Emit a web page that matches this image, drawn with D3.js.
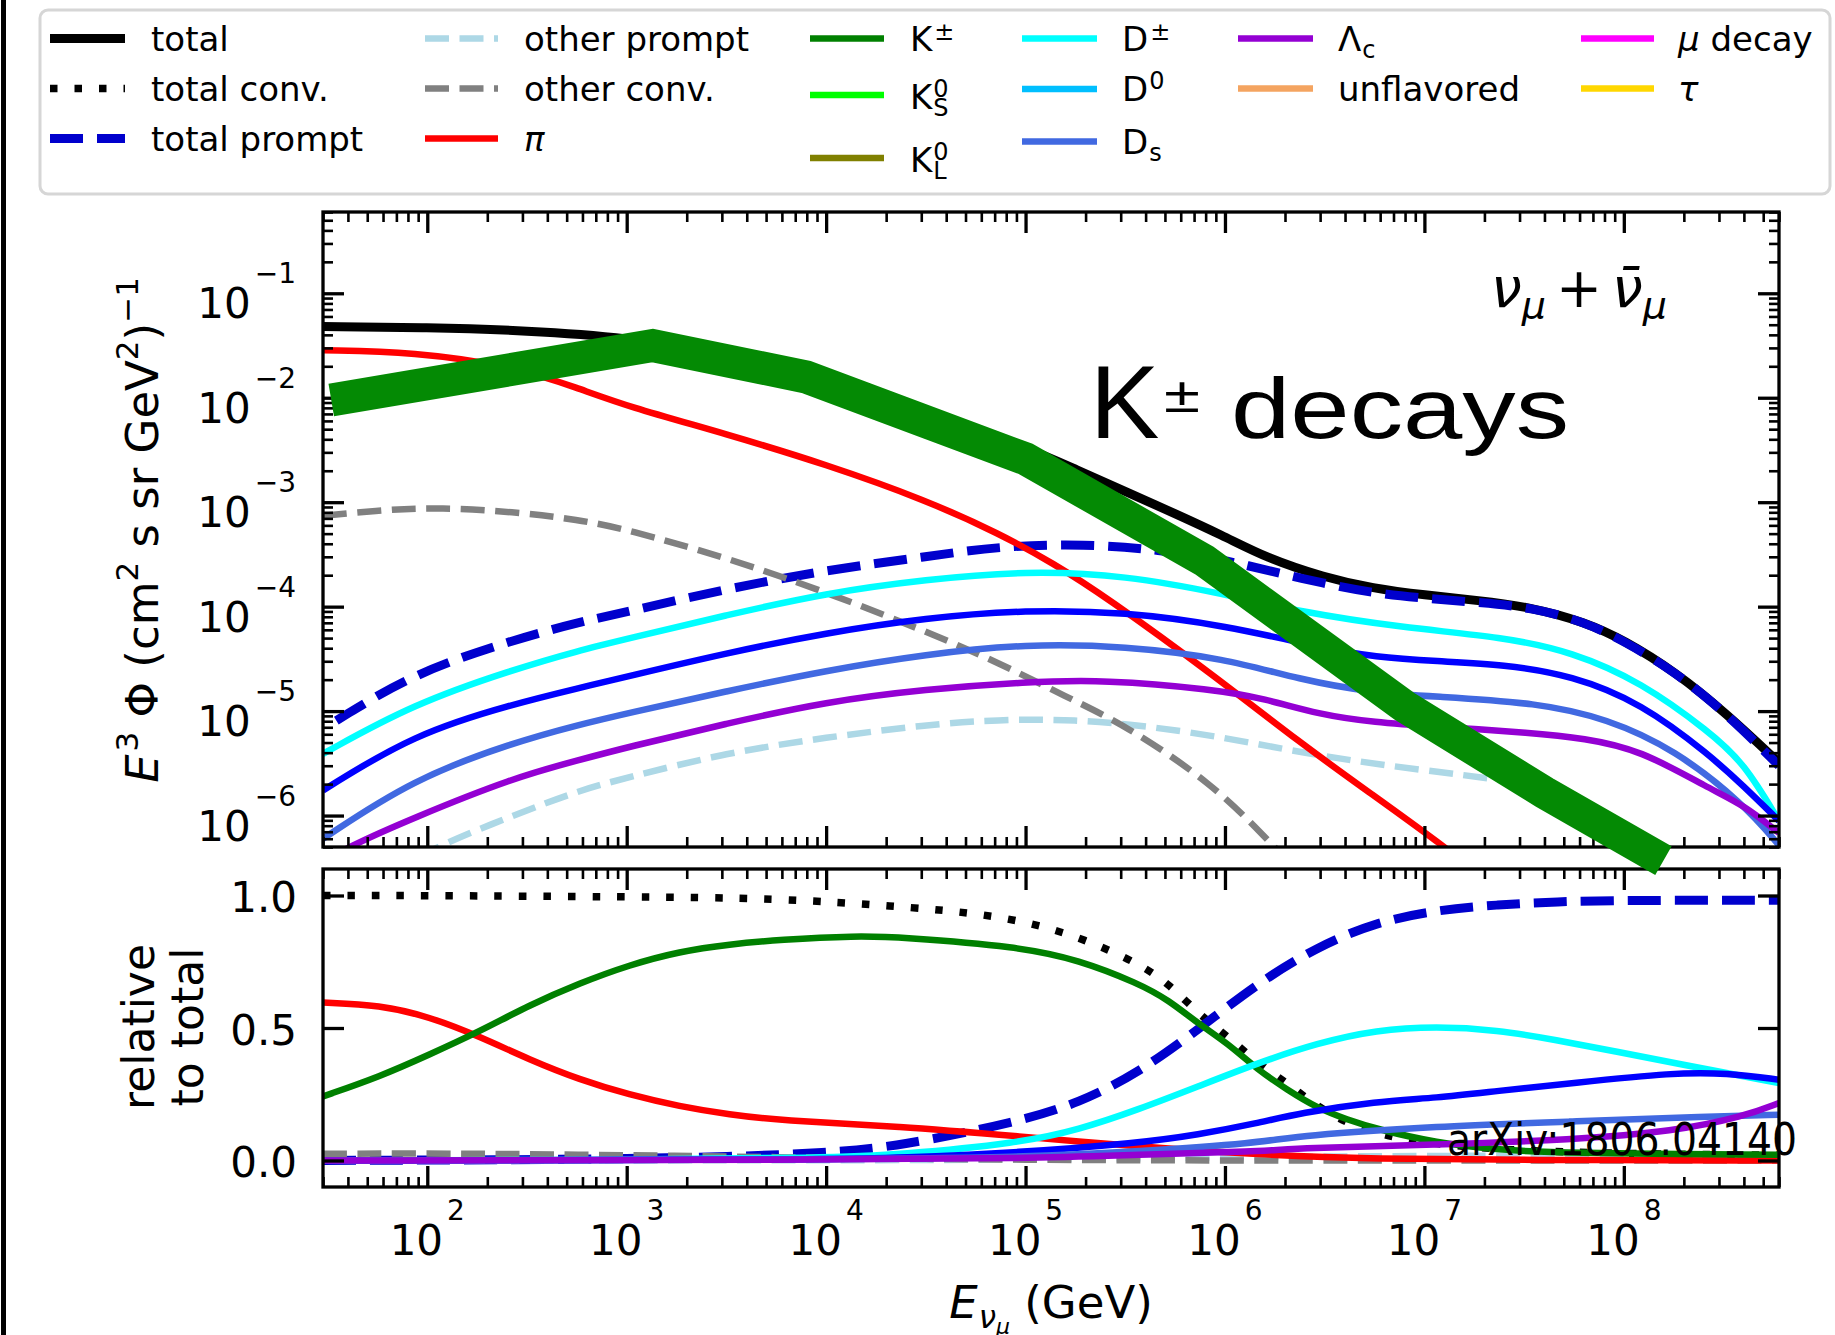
<!DOCTYPE html>
<html>
<head>
<meta charset="utf-8">
<script src="https://cdn.jsdelivr.net/npm/d3@7"></script>
<style>
  html, body { margin: 0; padding: 0; background: #fff; }
  svg { display: block; }
</style>
</head>
<body>
<svg id="fig" width="1835" height="1335"></svg>
<script>
// ---------------- data: E^3 * flux (cm^-2 s^-1 sr^-1 GeV^2), E in GeV ----------------
const fluxTotal = [[30,0.048],[100,0.047],[316,0.044],[1000,0.038],[3160,0.0263],[1e4,0.0158],[3.16e4,7.1e-3],[1e5,3.4e-3],[1.65e5,2.2e-3],[4.7e5,9.1e-4],[1e6,4.7e-4],[1.6e6,2.95e-4],[3.16e6,1.9e-4],[5.5e6,1.5e-4],[1e7,1.29e-4],[1.86e7,1.15e-4],[3.5e7,9.8e-5],[6.4e7,7.1e-5],[1e8,4.8e-5],[1.8e8,2.4e-5],[3.27e8,9.5e-6],[6e8,3.2e-6]];
const fluxPrompt = [[35,8.1e-6],[85,2.3e-5],[270,4.8e-5],[575,7.1e-5],[1000,8.9e-5],[3160,1.48e-4],[1e4,2.24e-4],[3.16e4,3.0e-4],[7.4e4,3.8e-4],[2e5,4.0e-4],[4.7e5,3.5e-4],[1e6,2.8e-4],[1.6e6,2.24e-4],[3.16e6,1.66e-4],[5.5e6,1.35e-4],[1e7,1.2e-4],[1.86e7,1.1e-4],[3.5e7,9.8e-5],[6.4e7,7.1e-5],[1e8,4.7e-5],[1.8e8,2.4e-5],[3.27e8,9.5e-6],[6e8,3.0e-6]];
const fluxOtherPrompt = [[63,2.8e-7],[120,5.4e-7],[270,1.0e-6],[575,1.74e-6],[1000,2.3e-6],[3160,4.0e-6],[1e4,5.6e-6],[3.16e4,7.4e-6],[7.4e4,8.3e-6],[1.58e5,8.3e-6],[3.16e5,7.6e-6],[8.7e5,5.9e-6],[2.95e6,3.7e-6],[1e7,2.7e-6],[2.5e7,2.2e-6],[5e7,1.7e-6]];
const fluxOtherConv = [[30,7.4e-4],[63,8.5e-4],[115,8.9e-4],[270,8.1e-4],[575,6.8e-4],[1000,5.5e-4],[3160,2.95e-4],[1e4,1.38e-4],[3.16e4,5.8e-5],[7.4e4,2.9e-5],[1.58e5,1.38e-5],[3.16e5,7.4e-6],[8.7e5,2.0e-6],[1.58e6,6.3e-7],[2.5e6,2.5e-7]];
const fluxPion = [[30,0.0285],[85,0.0275],[270,0.020],[575,0.0123],[1000,8.3e-3],[3160,4.5e-3],[1e4,2.3e-3],[3.16e4,1.05e-3],[7.4e4,5.0e-4],[1.38e5,2.6e-4],[2.5e5,1.26e-4],[8.7e5,2.24e-5],[2.37e6,5.0e-6],[5.5e6,1.58e-6],[1.2e7,5.4e-7],[2e7,2.5e-7]];
const fluxDpm = [[30,3.9e-6],[85,1.17e-5],[270,2.5e-5],[575,3.8e-5],[1000,4.9e-5],[3160,8.3e-5],[1e4,1.35e-4],[3.16e4,1.82e-4],[1e5,2.2e-4],[3.16e5,2.0e-4],[1e6,1.32e-4],[2.37e6,8.9e-5],[7.7e6,6.3e-5],[2.5e7,5.1e-5],[5.5e7,3.7e-5],[1.22e8,1.9e-5],[2.7e8,6.3e-6],[4e8,3.2e-6],[6e8,8.9e-7]];
const fluxD0 = [[30,1.74e-6],[85,6.0e-6],[270,1.17e-5],[575,1.66e-5],[1000,2.14e-5],[3160,3.6e-5],[1e4,5.6e-5],[3.16e4,7.8e-5],[1e5,9.3e-5],[3.16e5,8.9e-5],[1e6,6.6e-5],[3.16e6,4.0e-5],[5.6e6,3.3e-5],[1.15e7,3.0e-5],[2.5e7,2.8e-5],[5.5e7,2.2e-5],[1.22e8,1.2e-5],[2.7e8,3.8e-6],[4e8,1.9e-6],[6e8,8.9e-7]];
const fluxDs = [[30,6.0e-7],[85,2.24e-6],[270,5.0e-6],[575,7.4e-6],[1000,9.5e-6],[3160,1.55e-5],[1e4,2.45e-5],[3.16e4,3.5e-5],[1e5,4.4e-5],[3.16e5,4.2e-5],[1e6,3.2e-5],[2.37e6,2.0e-5],[5.5e6,1.5e-5],[1.15e7,1.38e-5],[3.7e7,1.2e-5],[8.2e7,8.5e-6],[1.8e8,4.3e-6],[4e8,1.29e-6],[6e8,5.2e-7]];
const fluxLambdaC = [[30,3.5e-7],[39,4.9e-7],[85,9.5e-7],[270,2.3e-6],[575,3.4e-6],[1000,4.5e-6],[3160,7.6e-6],[1e4,1.23e-5],[3.16e4,1.62e-5],[1e5,1.9e-5],[2.5e5,2.0e-5],[8.7e5,1.62e-5],[1.58e6,1.32e-5],[2.95e6,9.3e-6],[5.6e6,7.8e-6],[1.15e7,7.1e-6],[3.5e7,6.2e-6],[6.3e7,5.5e-6],[1.2e8,4.3e-6],[2.7e8,1.8e-6],[4e8,1.26e-6],[6e8,6.8e-7]];
// highlighted K± decay contribution (thick band)
const kaonBand = [[33,9.5e-3],[1350,0.0316],[7940,0.0158],[1e5,2.6e-3],[7.9e5,2.75e-4],[7.9e6,1.12e-5],[4e7,1.66e-6],[1.58e8,3.7e-7]];

// ---------------- data: fractions of the total ----------------
const ratioConv = [[30,1.0],[100,1.0],[1000,0.995],[5850,0.99],[2.34e4,0.958],[4.6e4,0.94],[9.3e4,0.908],[1.85e5,0.845],[3.67e5,0.745],[5.2e5,0.669],[7.3e5,0.556],[1.03e6,0.468],[1.46e6,0.368],[2.05e6,0.292],[2.9e6,0.204],[4.1e6,0.141],[5.75e6,0.104],[8.1e6,0.078],[1.07e7,0.066],[2.3e7,0.04],[1e8,0.025],[6e8,0.02]];
const ratioPrompt = [[30,0.0],[316,0.003],[1000,0.007],[3160,0.014],[1e4,0.028],[2.34e4,0.054],[9.3e4,0.147],[1.85e5,0.217],[3.67e5,0.33],[7.3e5,0.493],[1.46e6,0.669],[2.9e6,0.807],[5.75e6,0.90],[1.15e7,0.945],[2.3e7,0.965],[4.6e7,0.977],[1e8,0.982],[6e8,0.982]];
const ratioOtherPrompt = [[30,0.0],[1e4,0.0004],[1e5,0.003],[1e6,0.012],[1e7,0.018],[1e8,0.018],[6e8,0.015]];
const ratioOtherConv = [[30,0.025],[100,0.027],[316,0.024],[1000,0.02],[3160,0.015],[1e4,0.01],[3.16e4,0.006],[1e5,0.003],[3.16e5,0.001],[1e6,0.0],[6e8,0.0]];
const ratioPion = [[30,0.596],[58,0.587],[102,0.543],[183,0.468],[326,0.38],[580,0.305],[1030,0.248],[1840,0.204],[3280,0.173],[5850,0.151],[2.34e4,0.129],[9.3e4,0.091],[3.67e5,0.053],[1.46e6,0.022],[5.75e6,0.006],[3e7,0.002],[6e8,0.0]];
const ratioKaon = [[30,0.242],[58,0.317],[102,0.399],[183,0.487],[326,0.587],[580,0.669],[1030,0.738],[1840,0.789],[3280,0.816],[5850,0.833],[1.42e4,0.848],[2.34e4,0.843],[9.3e4,0.807],[1.85e5,0.757],[3.67e5,0.669],[5.2e5,0.606],[7.3e5,0.518],[1.03e6,0.443],[1.46e6,0.342],[2.05e6,0.267],[2.9e6,0.198],[4.1e6,0.154],[5.75e6,0.119],[1.15e7,0.066],[2.3e7,0.041],[4.6e7,0.028],[6e8,0.022]];
const ratioDpm = [[30,0.0],[1000,0.002],[1e4,0.01],[2.34e4,0.022],[9.3e4,0.066],[1.85e5,0.116],[3.67e5,0.192],[7.3e5,0.279],[1.46e6,0.368],[2.9e6,0.443],[5.75e6,0.493],[1.15e7,0.506],[2.3e7,0.493],[4.6e7,0.455],[9.1e7,0.411],[1.8e8,0.368],[6e8,0.292]];
const ratioD0 = [[30,0.0],[1000,0.001],[1e4,0.005],[2.34e4,0.01],[9.3e4,0.03],[3.67e5,0.066],[7.3e5,0.097],[1.46e6,0.141],[2.37e6,0.179],[5.75e6,0.223],[1.15e7,0.236],[2.3e7,0.262],[5.5e7,0.292],[1.8e8,0.332],[3.27e8,0.33],[6e8,0.305]];
const ratioDs = [[30,0.0],[1e4,0.003],[1e5,0.012],[3.67e5,0.034],[1.46e6,0.066],[2.37e6,0.094],[1.15e7,0.129],[5.5e7,0.147],[2.7e8,0.166],[6e8,0.173]];
const ratioLambdaC = [[30,0.0],[1e4,0.002],[1e5,0.008],[3.67e5,0.022],[1.46e6,0.034],[2.37e6,0.047],[1.15e7,0.06],[5.5e7,0.078],[1.8e8,0.11],[4e8,0.166],[6e8,0.217]];

// ---------------- axis ticks ----------------
const xMajorTicks = [1e2,1e3,1e4,1e5,1e6,1e7,1e8];
const xMajorExp = [2,3,4,5,6,7,8];
const yTopMajorTicks = [1e-6,1e-5,1e-4,1e-3,1e-2,1e-1];
const yTopMajorExp = [-6,-5,-4,-3,-2,-1];
const yBotTicks = [0.0, 0.5, 1.0];
const yBotTickLabels = ['0.0','0.5','1.0'];

// ---------------- layout ----------------
const W = 1835, H = 1335;
const L = 323, R = 1779;
const topPanel = {t: 212, b: 847};
const botPanel = {t: 869, b: 1187};
const FONT = "'DejaVu Sans', 'Liberation Sans', sans-serif";

const x = d3.scaleLog().domain([30, 6e8]).range([L, R]);
const yTop = d3.scaleLog().domain([5e-7, 0.6]).range([topPanel.b, topPanel.t]);
const yBot = d3.scaleLinear().domain([-0.1, 1.1]).range([botPanel.b, botPanel.t]);

const svg = d3.select('#fig');
svg.append('rect').attr('width', W).attr('height', H).attr('fill', '#fff');
svg.append('rect').attr('x', 1).attr('y', 0).attr('width', 5).attr('height', H).attr('fill', '#000');

const defs = svg.append('defs');
defs.append('clipPath').attr('id', 'clipTop').append('rect')
  .attr('x', L).attr('y', topPanel.t).attr('width', R - L).attr('height', topPanel.b - topPanel.t);
defs.append('clipPath').attr('id', 'clipBot').append('rect')
  .attr('x', L).attr('y', botPanel.t).attr('width', R - L).attr('height', botPanel.b - botPanel.t);

// text built from pieces (sub/superscripts), measured piece by piece
function rich(parent, pieces, opt) {
  const g = parent.append('g');
  const inner = g.append('g');
  let cx = 0, lastStart = 0;
  pieces.forEach(p => {
    const start = p.back ? lastStart : cx + (p.dx || 0);
    const t = inner.append('text')
      .attr('xml:space', 'preserve')
      .attr('x', start)
      .attr('y', p.dy || 0)
      .attr('font-family', p.family || opt.family || FONT)
      .attr('font-size', p.size || opt.size)
      .attr('font-style', p.it ? 'italic' : 'normal')
      .attr('fill', opt.fill || '#000')
      .text(p.t);
    const w = t.node().getComputedTextLength();
    if (!p.back) { lastStart = start; cx = start + w; }
    else { cx = Math.max(cx, start + w); }
  });
  const off = opt.anchor === 'middle' ? -cx / 2 : opt.anchor === 'end' ? -cx : 0;
  inner.attr('transform', `translate(${off},0)`);
  g.attr('transform', `translate(${opt.x},${opt.y})` + (opt.rotate ? ` rotate(${opt.rotate})` : ''));
  return cx;
}

// ---------------- series styles ----------------
const DOT = '7.5,17', DASH_THICK = '33,14', DASH = '24,10.5';
const series = [
  {top: fluxTotal, color: '#000000', width: 9},
  {bottom: ratioConv, color: '#000000', width: 7.5, dash: DOT},
  {top: fluxPrompt, bottom: ratioPrompt, color: '#0000cd', width: 9, dash: DASH_THICK},
  {top: fluxOtherPrompt, bottom: ratioOtherPrompt, color: '#add8e6', width: 6.5, dash: DASH},
  {top: fluxOtherConv, bottom: ratioOtherConv, color: '#808080', width: 6.5, dash: DASH},
  {top: fluxPion, bottom: ratioPion, color: '#ff0000', width: 6.5},
  {bottom: ratioKaon, color: '#008000', width: 6.5},
  {top: fluxDpm, bottom: ratioDpm, color: '#00ffff', width: 6.5},
  {top: fluxD0, bottom: ratioD0, color: '#0000ff', width: 6.5},
  {top: fluxDs, bottom: ratioDs, color: '#4169e1', width: 6.5},
  {top: fluxLambdaC, bottom: ratioLambdaC, color: '#9400d3', width: 6.5}
];

const lineTop = d3.line().x(d => x(d[0])).y(d => yTop(d[1])).curve(d3.curveBasis);
const lineBot = d3.line().x(d => x(d[0])).y(d => yBot(d[1])).curve(d3.curveBasis);

const gTop = svg.append('g').attr('clip-path', 'url(#clipTop)');
const gBot = svg.append('g').attr('clip-path', 'url(#clipBot)');
series.forEach(s => {
  if (s.top) gTop.append('path').attr('d', lineTop(s.top)).attr('fill', 'none')
    .attr('stroke', s.color).attr('stroke-width', s.width)
    .attr('stroke-dasharray', s.dash || null).attr('stroke-linejoin', 'round');
  if (s.bottom) gBot.append('path').attr('d', lineBot(s.bottom)).attr('fill', 'none')
    .attr('stroke', s.color).attr('stroke-width', s.width)
    .attr('stroke-dasharray', s.dash || null).attr('stroke-linejoin', 'round');
});

// ---------------- axes ----------------
function logMinors(lo, hi) {
  const out = [];
  for (let e = Math.floor(Math.log10(lo)) - 1; e <= Math.ceil(Math.log10(hi)); e++)
    for (let k = 2; k <= 9; k++) {
      const v = k * Math.pow(10, e);
      if (v >= lo * 0.999 && v <= hi * 1.001) out.push(v);
    }
  return out;
}
function tickSet(axisFn, scale, values, size, width, tx, ty) {
  svg.append('g').attr('transform', `translate(${tx},${ty})`)
    .call(axisFn(scale).tickValues(values).tickSize(size).tickSizeOuter(0).tickFormat(''))
    .call(g => {
      g.select('.domain').remove();
      g.selectAll('text').remove();
      g.selectAll('line').attr('stroke', '#000').attr('stroke-width', width);
    });
}
const xMinor = logMinors(30, 6e8);
const yMinor = logMinors(5e-7, 0.6);
const MAJ = -21, MIN = -10, MAJW = 3.3, MINW = 2.6;

[topPanel, botPanel].forEach(p => {
  tickSet(d3.axisBottom, x, xMajorTicks, MAJ, MAJW, 0, p.b);
  tickSet(d3.axisBottom, x, xMinor, MIN, MINW, 0, p.b);
  tickSet(d3.axisTop, x, xMajorTicks, MAJ, MAJW, 0, p.t);
  tickSet(d3.axisTop, x, xMinor, MIN, MINW, 0, p.t);
});
tickSet(d3.axisLeft, yTop, yTopMajorTicks, MAJ, MAJW, L, 0);
tickSet(d3.axisLeft, yTop, yMinor, MIN, MINW, L, 0);
tickSet(d3.axisRight, yTop, yTopMajorTicks, MAJ, MAJW, R, 0);
tickSet(d3.axisRight, yTop, yMinor, MIN, MINW, R, 0);
tickSet(d3.axisLeft, yBot, yBotTicks, MAJ, MAJW, L, 0);
tickSet(d3.axisRight, yBot, yBotTicks, MAJ, MAJW, R, 0);

[topPanel, botPanel].forEach(p => {
  svg.append('rect').attr('x', L).attr('y', p.t).attr('width', R - L).attr('height', p.b - p.t)
    .attr('fill', 'none').attr('stroke', '#000').attr('stroke-width', 3.3);
});

// tick labels
const TICK = 42, EXP = 28;
yTopMajorTicks.forEach((v, i) => {
  rich(svg, [{t: '10'}, {t: '\u2212' + Math.abs(yTopMajorExp[i]), size: EXP, dy: -35, dx: 4}],
    {x: 296, y: yTop(v) + 25, size: TICK, anchor: 'end'});
});
yBotTicks.forEach((v, i) => {
  rich(svg, [{t: yBotTickLabels[i]}], {x: 297, y: yBot(v) + 16.5, size: TICK, anchor: 'end'});
});
xMajorTicks.forEach((v, i) => {
  rich(svg, [{t: '10'}, {t: String(xMajorExp[i]), size: EXP, dy: -35, dx: 4}],
    {x: x(v), y: 1255, size: TICK, anchor: 'middle'});
});

// axis labels
rich(svg, [
  {t: 'E', it: true}, {t: '3', size: 31, dy: -20, dx: 3}, {t: ' \u03a6 (cm'}, {t: '2', size: 31, dy: -20},
  {t: ' s sr GeV'}, {t: '2', size: 31, dy: -20}, {t: ')'}, {t: '\u22121', size: 31, dy: -20}
], {x: 158, y: 530, size: 45, anchor: 'middle', rotate: -90});
rich(svg, [{t: 'relative'}], {x: 154, y: 1027, size: 44, anchor: 'middle', rotate: -90});
rich(svg, [{t: 'to total'}], {x: 202.5, y: 1027, size: 44, anchor: 'middle', rotate: -90});
rich(svg, [
  {t: 'E', it: true}, {t: '\u03bd', it: true, size: 31, dy: 10, dx: 1}, {t: '\u03bc', it: true, size: 22, dy: 16},
  {t: ' (GeV)'}
], {x: 1051, y: 1318, size: 45, anchor: 'middle'});

// panel annotations
rich(svg, [
  {t: '\u03bd', it: true}, {t: '\u03bc', it: true, size: 38, dy: 11},
  {t: '+', dx: 10}, {t: '\u03bd\u0304', it: true, dx: 10}, {t: '\u03bc', it: true, size: 38, dy: 11}
], {x: 1491, y: 307, size: 55});

svg.append('text').attr('x', 1447).attr('y', 1155)
  .attr('font-family', FONT).attr('font-size', 44)
  .attr('textLength', 350).attr('lengthAdjust', 'spacingAndGlyphs')
  .text('arXiv:1806.04140');

// ---------------- legend ----------------
svg.append('rect').attr('x', 40).attr('y', 10).attr('width', 1790).attr('height', 184)
  .attr('rx', 8).attr('fill', '#fff').attr('stroke', '#d6d6d6').attr('stroke-width', 3);

const legendColX = [[50,125,151],[425,498,524],[810,884,910],[1022,1097,1122],[1238,1313,1338],[1581,1654,1678]];
const legendRowY = [[38.5,88.5,138.5],[38.5,88.5,138.5],[38.5,95,158],[38.5,89,141.5],[38.5,88.5],[38.5,88.5]];
const SUP = 24;
const legendItems = [
  {c: 0, r: 0, label: [{t: 'total'}], color: '#000000', width: 9},
  {c: 0, r: 1, label: [{t: 'total conv.'}], color: '#000000', width: 7.5, dash: DOT},
  {c: 0, r: 2, label: [{t: 'total prompt'}], color: '#0000cd', width: 9, dash: DASH_THICK},
  {c: 1, r: 0, label: [{t: 'other prompt'}], color: '#add8e6', width: 6.5, dash: DASH},
  {c: 1, r: 1, label: [{t: 'other conv.'}], color: '#808080', width: 6.5, dash: DASH},
  {c: 1, r: 2, label: [{t: '\u03c0', it: true}], color: '#ff0000', width: 6.5},
  {c: 2, r: 0, label: [{t: 'K'}, {t: '\u00b1', size: SUP, dy: -11, dx: 2}], color: '#008000', width: 6.5},
  {c: 2, r: 1, label: [{t: 'K'}, {t: '0', size: SUP, dy: -12, dx: 1}, {t: 'S', size: SUP, dy: 7, back: true}], color: '#00ff00', width: 6.5, shift: 2},
  {c: 2, r: 2, label: [{t: 'K'}, {t: '0', size: SUP, dy: -12, dx: 1}, {t: 'L', size: SUP, dy: 7, back: true}], color: '#808000', width: 6.5, shift: 2},
  {c: 3, r: 0, label: [{t: 'D'}, {t: '\u00b1', size: SUP, dy: -11, dx: 2}], color: '#00ffff', width: 6.5},
  {c: 3, r: 1, label: [{t: 'D'}, {t: '0', size: SUP, dy: -12, dx: 1}], color: '#00bfff', width: 6.5},
  {c: 3, r: 2, label: [{t: 'D'}, {t: 's', size: SUP, dy: 7, dx: 1}], color: '#4169e1', width: 6.5},
  {c: 4, r: 0, label: [{t: '\u039b'}, {t: 'c', size: SUP, dy: 7, dx: 1}], color: '#9400d3', width: 6.5},
  {c: 4, r: 1, label: [{t: 'unflavored'}], color: '#f4a460', width: 6.5},
  {c: 5, r: 0, label: [{t: '\u03bc', it: true}, {t: ' decay'}], color: '#ff00ff', width: 6.5},
  {c: 5, r: 1, label: [{t: '\u03c4', it: true}], color: '#ffd700', width: 6.5}
];
legendItems.forEach(it => {
  const [x0, x1, tx] = legendColX[it.c];
  const y = legendRowY[it.c][it.r];
  svg.append('line').attr('x1', x0).attr('x2', x1).attr('y1', y).attr('y2', y)
    .attr('stroke', it.color).attr('stroke-width', it.width)
    .attr('stroke-dasharray', it.dash || null);
  rich(svg, it.label, {x: tx, y: y + 12 + (it.shift || 0), size: 34});
});

// ---------------- K± highlight ----------------
const bandLine = d3.line().x(d => x(d[0])).y(d => yTop(d[1]));
svg.append('path').attr('d', bandLine(kaonBand)).attr('fill', 'none')
  .attr('stroke', '#048a04').attr('stroke-width', 33)
  .attr('stroke-linejoin', 'miter').attr('stroke-linecap', 'butt');

const SANS2 = "'Liberation Sans', Arimo, Arial, sans-serif";
svg.append('text').attr('x', 1090).attr('y', 438).attr('font-family', SANS2).attr('font-size', 104).text('K');
svg.append('text').attr('x', 1164).attr('y', 412).attr('font-family', SANS2).attr('font-size', 50)
  .attr('textLength', 36).attr('lengthAdjust', 'spacingAndGlyphs').text('\u00b1');
svg.append('text').attr('x', 1231).attr('y', 438).attr('font-family', SANS2).attr('font-size', 85)
  .attr('textLength', 338).attr('lengthAdjust', 'spacingAndGlyphs').text('decays');
</script>
</body>
</html>
